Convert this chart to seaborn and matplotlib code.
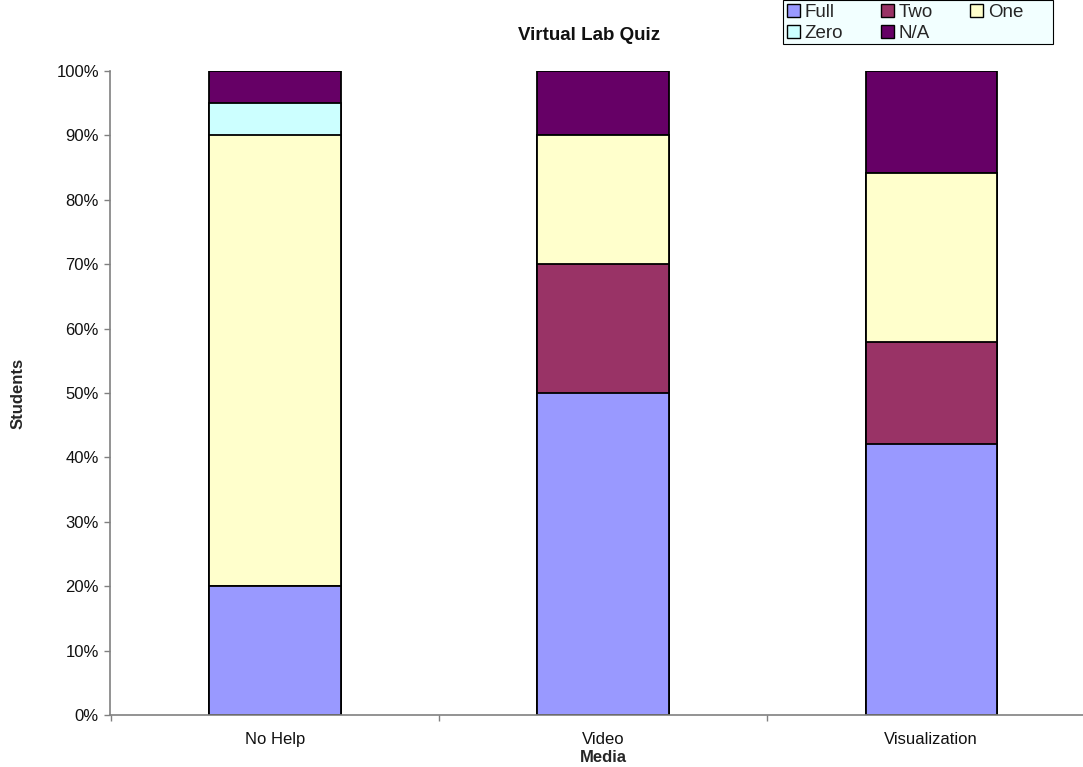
import matplotlib
matplotlib.use("Agg")
import matplotlib.pyplot as plt
from matplotlib.patches import Patch, Rectangle
from matplotlib.ticker import FixedLocator, PercentFormatter
import numpy as np
import pandas as pd
import seaborn as sns

# Quiz results per media type (number of students)
media = ["No Help", "Video", "Visualization"]
full = [4, 5, 8]
two = [0, 2, 3]
one = [14, 2, 5]
zero = [1, 0, 0]
na = [1, 1, 3]

series_names = ["Full", "Two", "One", "Zero", "N/A"]
series_colors = ["#9999FF", "#993366", "#FFFFCC", "#CCFFFF", "#660066"]

sns.set_theme(style="white")
plt.rcParams["font.family"] = ["Liberation Sans", "DejaVu Sans"]

counts = np.array([full, two, one, zero, na], dtype=float)
shares = counts / counts.sum(axis=0)
tops = np.cumsum(shares, axis=0)

W, H = 1083, 767
fig = plt.figure(figsize=(W / 100, H / 100), dpi=100)
ax = fig.add_axes([110 / W, 1 - 715 / H, (W - 110) / W, (715 - 71) / H])

# stacked bars: draw the tallest cumulative layer first, then cover it downward
for i in range(len(series_names) - 1, -1, -1):
    df = pd.DataFrame({"Media": media, "Share": tops[i]})
    sns.barplot(data=df, x="Media", y="Share", order=media, color=series_colors[i],
                saturation=1, width=0.4, edgecolor="black", linewidth=1.3, ax=ax)

# category boundary ticks below the axis, labels centred under bars
ax.set_xticks([-0.5, 0.5, 1.5])
ax.set_xticklabels([])
ax.set_xticks([0, 1, 2], minor=True)
ax.set_xticklabels(media, minor=True)
ax.set_xlim(-0.503, 2.463)
ax.set_ylim(0, 1)
ax.yaxis.set_major_locator(FixedLocator(np.arange(0, 1.01, 0.1)))
ax.yaxis.set_major_formatter(PercentFormatter(1.0, decimals=0))

ax.tick_params(axis="x", which="major", direction="out", length=4, width=1, color="#808080", bottom=True)
ax.tick_params(axis="x", which="minor", length=0, pad=12, labelsize=12, labelcolor="#111111")
ax.tick_params(axis="y", direction="out", length=4, width=1, color="#808080", left=True,
               labelsize=12, pad=4, labelcolor="#111111")

for side in ["top", "right"]:
    ax.spines[side].set_visible(False)
for side in ["left", "bottom"]:
    ax.spines[side].set_color("#808080")
    ax.spines[side].set_linewidth(1.2)

ax.set_xlabel("Media", fontsize=12, fontweight="bold", va="center")
ax.set_ylabel("Students", fontsize=12, fontweight="bold", va="center")
ax.xaxis.set_label_coords((603 - 110) / 973, -(757 - 715) / 644)
ax.yaxis.set_label_coords(-(110 - 18) / 973, 0.5)

fig.text(589 / W, 1 - 35 / H, "Virtual Lab Quiz", ha="center", va="center",
         fontsize=13.5, fontweight="bold", color="#111111")

# legend box
fig.patches.append(Rectangle((783 / W, 1 - 44 / H), (1053 - 783) / W, 44 / H,
                             transform=fig.transFigure, facecolor="#F2FFFF",
                             edgecolor="black", linewidth=0.8, zorder=0))

# legend laid out row by row: Full, Two, One / Zero, N/A
order = [0, 3, 1, 4, 2]
handles = [Patch(facecolor=series_colors[k], edgecolor="black", linewidth=1.0) for k in order]
labels = [series_names[k] for k in order]
leg = fig.legend(handles, labels, loc="upper left", bbox_to_anchor=(784 / W, 1 - 1 / H),
                 ncol=3, fontsize=13.5, frameon=False, handlelength=0.7, handleheight=0.7,
                 handletextpad=0.25, columnspacing=2.0, labelspacing=0.2,
                 borderpad=0.15, borderaxespad=0)

fig.savefig("out.png", dpi=100)
